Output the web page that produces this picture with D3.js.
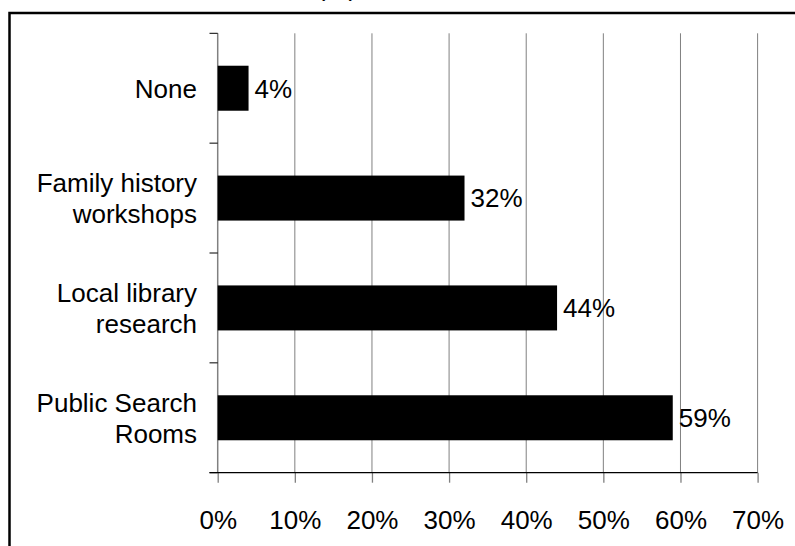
<!DOCTYPE html>
<html>
<head>
<meta charset="utf-8">
<script src="https://cdn.jsdelivr.net/npm/d3@7/dist/d3.min.js"></script>
<style>
  html, body { margin: 0; padding: 0; background: #fff; }
  svg { display: block; }
  text { font-family: "Liberation Sans", Arial, sans-serif; fill: #000; }
</style>
</head>
<body>
<svg id="chart" width="795" height="546"></svg>
<script>
const categories = ["None", "Family history workshops", "Local library research", "Public Search Rooms"];
const categoryLines = [["None"], ["Family history", "workshops"], ["Local library", "research"], ["Public Search", "Rooms"]];
const values = [0.04, 0.32, 0.44, 0.59];
const valueLabels = ["4%", "32%", "44%", "59%"];
const xTicks = [0, 0.1, 0.2, 0.3, 0.4, 0.5, 0.6, 0.7];
const xTickLabels = ["0%", "10%", "20%", "30%", "40%", "50%", "60%", "70%"];
const titleText = "(%)";

const svg = d3.select("#chart");
const FS = 26;

// partially cut-off title at very top
svg.append("text").attr("x", 337).attr("y", -4).attr("text-anchor", "middle")
  .style("font-size", FS + "px").text(titleText);

// outer frame (extends past the right and bottom edges)
svg.append("rect").attr("x", 9.5).attr("y", 13).attr("width", 900).attr("height", 700)
  .attr("fill", "none").attr("stroke", "#000").attr("stroke-width", 2.5);

const x = d3.scaleLinear().domain([0, 0.7]).range([217.7, 757.6]);
const y = d3.scaleBand().domain(categories).range([33.3, 472.7]).paddingInner(0).paddingOuter(0);
const barH = 45;

// gridlines
svg.append("g").selectAll("line").data(xTicks.slice(1)).join("line")
  .attr("x1", d => x(d)).attr("x2", d => x(d))
  .attr("y1", 33.3).attr("y2", 472.7)
  .attr("stroke", "#808080").attr("stroke-width", 1);

// y axis
const yTickPos = categories.map(c => y(c)).concat([472.7]);
svg.append("line").attr("x1", x(0)).attr("x2", x(0)).attr("y1", 33.3).attr("y2", 472.7)
  .attr("stroke", "#808080").attr("stroke-width", 1.5);
svg.append("g").selectAll("line").data(yTickPos).join("line")
  .attr("x1", 209.5).attr("x2", x(0)).attr("y1", d => d).attr("y2", d => d)
  .attr("stroke", d => d === 472.7 ? "#000" : "#000").attr("stroke-width", 1);

// x axis
const xAxis = d3.axisBottom(x).tickValues(xTicks).tickFormat((d, i) => xTickLabels[i])
  .tickSize(10).tickPadding(28);
const gx = svg.append("g").attr("transform", "translate(0,472.7)").call(xAxis);
gx.select(".domain").remove();
gx.selectAll(".tick line").attr("stroke", "#808080").attr("stroke-width", 1.3);
gx.selectAll(".tick text").style("font-size", FS + "px").attr("font-family", "Liberation Sans, Arial, sans-serif").attr("fill", "#000");
svg.append("line").attr("x1", 209.5).attr("x2", x(0.7)).attr("y1", 472.7).attr("y2", 472.7)
  .attr("stroke", "#000").attr("stroke-width", 1.3);

// bars
svg.append("g").selectAll("rect").data(categories).join("rect")
  .attr("x", x(0))
  .attr("y", d => y(d) + y.bandwidth() / 2 - barH / 2)
  .attr("width", (d, i) => x(values[i]) - x(0))
  .attr("height", barH)
  .attr("fill", "#000");

// value labels
svg.append("g").selectAll("text").data(categories).join("text")
  .attr("x", (d, i) => x(values[i]) + 6)
  .attr("y", d => y(d) + y.bandwidth() / 2)
  .attr("dy", "0.36em")
  .style("font-size", FS + "px")
  .text((d, i) => valueLabels[i]);

// category labels
const lineH = 31;
categories.forEach((c, i) => {
  const lines = categoryLines[i];
  const cy = y(c) + y.bandwidth() / 2;
  const t = svg.append("text").attr("text-anchor", "end").style("font-size", FS + "px");
  lines.forEach((ln, j) => {
    t.append("tspan").attr("x", 197)
      .attr("y", cy + (j - (lines.length - 1) / 2) * lineH)
      .attr("dy", "0.36em").text(ln);
  });
});
</script>
</body>
</html>
